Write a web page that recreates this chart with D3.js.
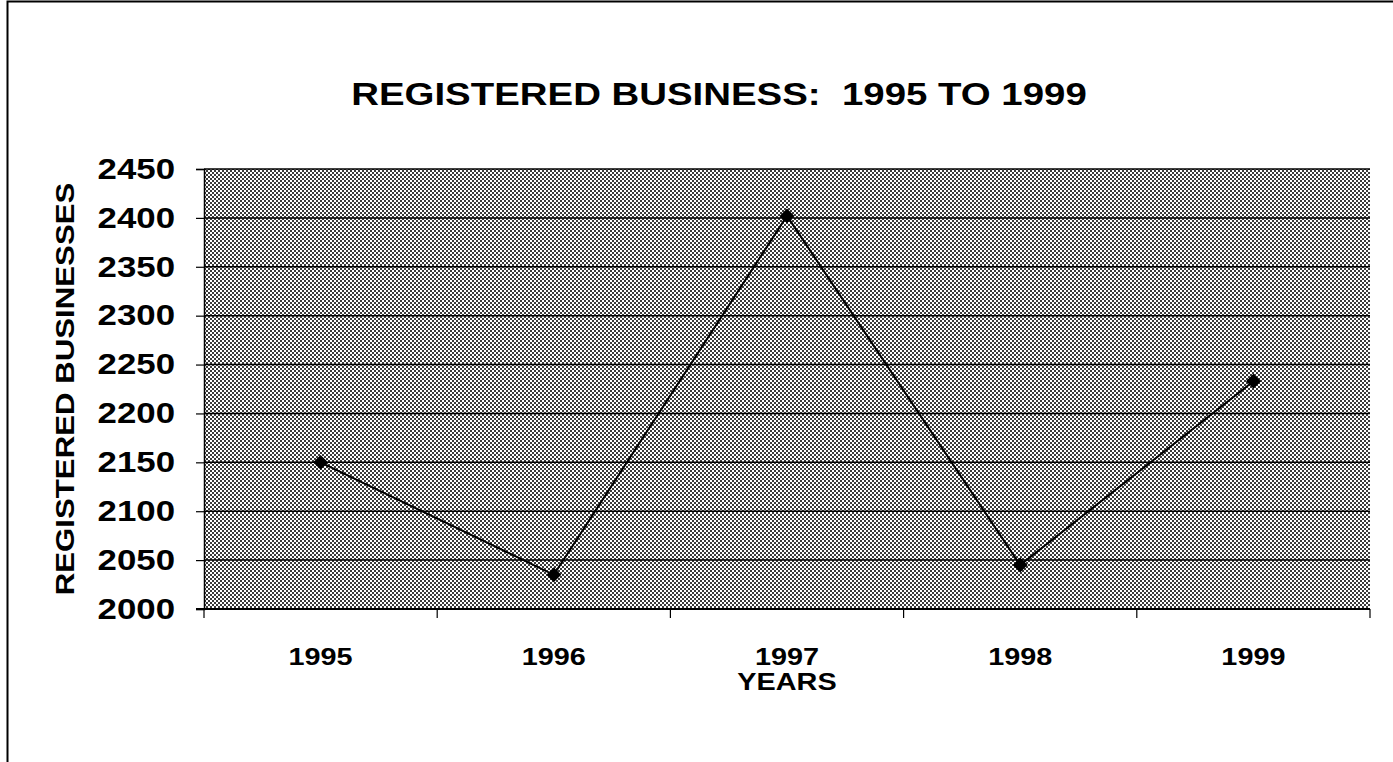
<!DOCTYPE html>
<html>
<head>
<meta charset="utf-8">
<script src="https://cdn.jsdelivr.net/npm/d3@7"></script>
<style>
  html, body { margin: 0; padding: 0; background: #fff; }
  svg { display: block; }
  text { font-family: "Liberation Sans", Arial, sans-serif; font-weight: bold; fill: #000; }
</style>
</head>
<body>
<svg id="chart" width="1393" height="762"></svg>
<script>
// Registered businesses per year
const years = ["1995", "1996", "1997", "1998", "1999"];
const businesses = [2150, 2035, 2402, 2045, 2233];
const yTicks = [2000, 2050, 2100, 2150, 2200, 2250, 2300, 2350, 2400, 2450];

const svg = d3.select("#chart");
const W = 1393, H = 762;
const plot = { left: 204, top: 169, right: 1370, bottom: 609 };
const STRETCH = 1.2; // wide bold lettering

// Widen a text horizontally while keeping its anchor in place
function widen(sel) {
  sel.each(function () {
    const len = this.getComputedTextLength();
    d3.select(this).attr("textLength", len * STRETCH).attr("lengthAdjust", "spacingAndGlyphs");
  });
}

// Outer frame
svg.append("path")
  .attr("d", `M7.5,${H} V1.5 H${W}`)
  .attr("fill", "none").attr("stroke", "#000").attr("stroke-width", 2);

// Dithered grey fill for the plot area
const defs = svg.append("defs");
const pat = defs.append("pattern")
  .attr("id", "dither").attr("patternUnits", "userSpaceOnUse")
  .attr("width", 4).attr("height", 4);
pat.append("rect").attr("width", 4).attr("height", 4).attr("fill", "#fff");
pat.append("rect").attr("x", 0).attr("y", 0).attr("width", 2).attr("height", 2).attr("fill", "#3a3a3a");
pat.append("rect").attr("x", 2).attr("y", 2).attr("width", 2).attr("height", 2).attr("fill", "#3a3a3a");

const x = d3.scaleBand().domain(years).range([plot.left, plot.right]);
const y = d3.scaleLinear().domain([2000, 2450]).range([plot.bottom, plot.top]);

svg.append("rect")
  .attr("x", plot.left).attr("y", plot.top)
  .attr("width", plot.right - plot.left).attr("height", plot.bottom - plot.top)
  .attr("fill", "url(#dither)");

// Horizontal gridlines
svg.append("g").selectAll("line").data(yTicks).join("line")
  .attr("x1", plot.left).attr("x2", plot.right)
  .attr("y1", d => y(d)).attr("y2", d => y(d))
  .attr("stroke", "#000").attr("stroke-width", 1.5);

// Y axis
const yAxis = svg.append("g")
  .attr("transform", `translate(${plot.left},0)`)
  .call(d3.axisLeft(y).tickValues(yTicks).tickSize(8).tickPadding(21).tickFormat(d3.format("d")));
yAxis.select(".domain").attr("stroke", "#000").attr("stroke-width", 1.5);
yAxis.selectAll(".tick line").attr("stroke", "#000").attr("stroke-width", 1.2);
yAxis.selectAll("text").attr("font-size", 29).attr("font-weight", "bold")
  .attr("font-family", "'Liberation Sans', Arial, sans-serif").attr("fill", "#000")
  .call(widen);

// X axis with ticks at category boundaries
const xAxis = svg.append("g").attr("transform", `translate(0,${plot.bottom})`);
xAxis.append("line")
  .attr("x1", plot.left - 8).attr("x2", plot.right)
  .attr("stroke", "#000").attr("stroke-width", 2);
const bounds = years.map(d => x(d)).concat([x(years[years.length - 1]) + x.bandwidth()]);
xAxis.selectAll("line.tk").data(bounds).join("line").attr("class", "tk")
  .attr("x1", d => d).attr("x2", d => d).attr("y1", 0).attr("y2", 9)
  .attr("stroke", "#000").attr("stroke-width", 1.2);
xAxis.selectAll("text").data(years).join("text")
  .attr("x", d => x(d) + x.bandwidth() / 2).attr("y", 56)
  .attr("text-anchor", "middle").attr("font-size", 24).text(d => d)
  .call(widen);

// Line and markers
const line = d3.line().x((d, i) => x(years[i]) + x.bandwidth() / 2).y(d => y(d));
svg.append("path").datum(businesses)
  .attr("d", line).attr("fill", "none").attr("stroke", "#000").attr("stroke-width", 2);
svg.append("g").selectAll("path").data(businesses).join("path")
  .attr("d", d3.symbol(d3.symbolSquare, 110))
  .attr("transform", (d, i) => `translate(${x(years[i]) + x.bandwidth() / 2},${y(d)}) rotate(45)`)
  .attr("fill", "#000");

// Titles
svg.append("text").attr("x", 719).attr("y", 105).attr("text-anchor", "middle")
  .attr("font-size", 32).attr("xml:space", "preserve")
  .text("REGISTERED BUSINESS:  1995 TO 1999").call(widen);
svg.append("text").attr("x", 787).attr("y", 690).attr("text-anchor", "middle")
  .attr("font-size", 24).text("YEARS").call(widen);
svg.append("text")
  .attr("transform", `translate(74,${(plot.top + plot.bottom) / 2}) rotate(-90)`)
  .attr("text-anchor", "middle").attr("font-size", 26).text("REGISTERED BUSINESSES")
  .call(widen);
</script>
</body>
</html>
